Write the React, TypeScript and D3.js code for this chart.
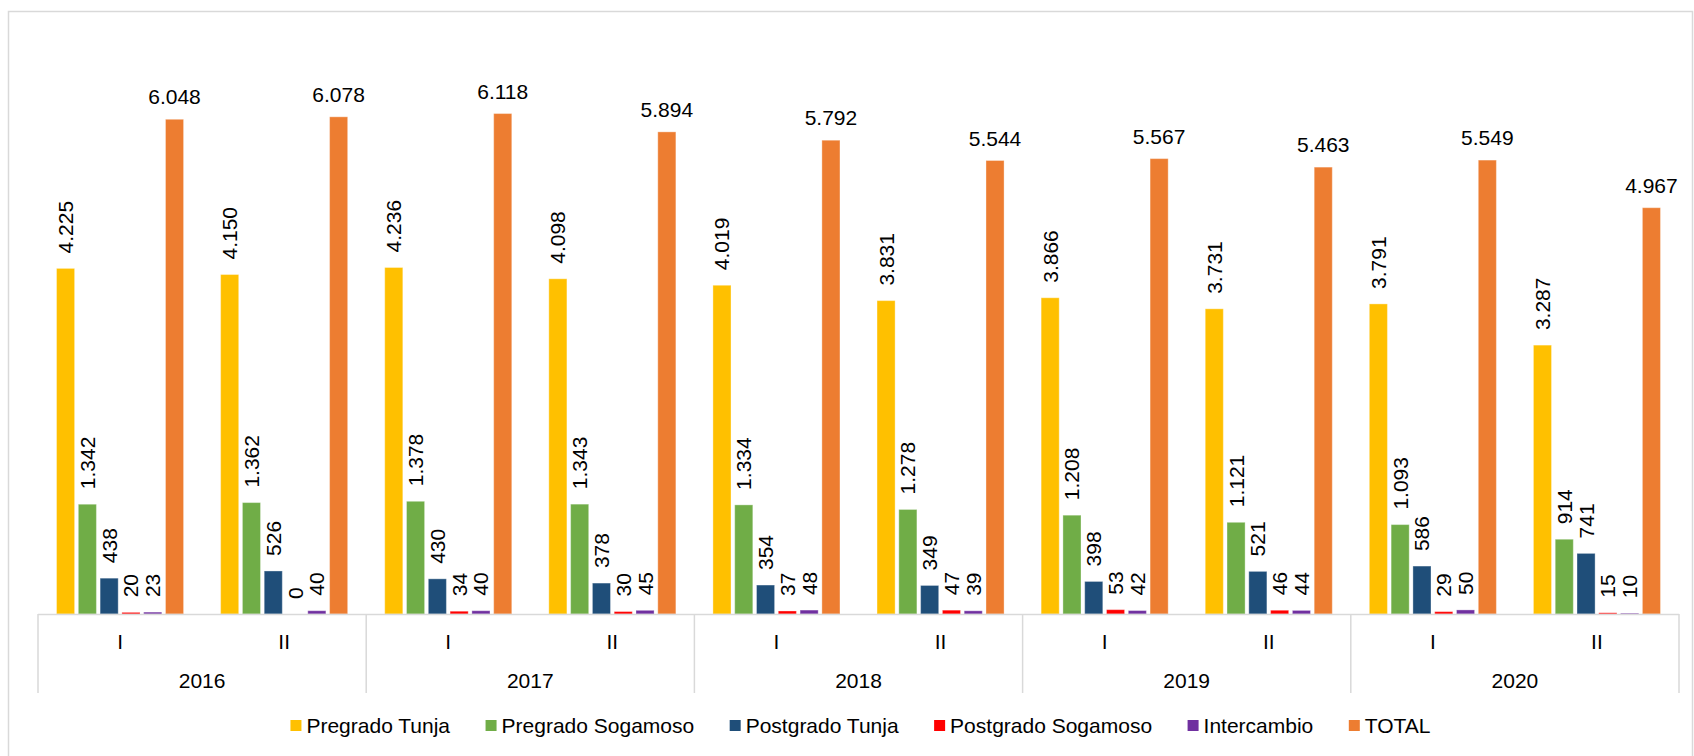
import React, { useEffect, useRef } from 'react'
import * as d3 from 'd3'

// chart data
const years = ['2016', '2017', '2018', '2019', '2020']
const semesters = ['I', 'II']
const seriesNames = ['Pregrado Tunja', 'Pregrado Sogamoso', 'Postgrado Tunja', 'Postgrado Sogamoso', 'Intercambio', 'TOTAL']
const pregradoTunja = [4225, 4150, 4236, 4098, 4019, 3831, 3866, 3731, 3791, 3287]
const pregradoSogamoso = [1342, 1362, 1378, 1343, 1334, 1278, 1208, 1121, 1093, 914]
const postgradoTunja = [438, 526, 430, 378, 354, 349, 398, 521, 586, 741]
const postgradoSogamoso = [20, 0, 34, 30, 37, 47, 53, 46, 29, 15]
const intercambio = [23, 40, 40, 45, 48, 39, 42, 44, 50, 10]
const total = [6048, 6078, 6118, 5894, 5792, 5544, 5567, 5463, 5549, 4967]
const colors = ['#FFC000', '#70AD47', '#1F4E79', '#FF0000', '#7030A0', '#ED7D31']

const FONT = '"Liberation Sans", Arial, sans-serif'

const App = () => {
    const svgRef = useRef<SVGSVGElement>(null)

    useEffect(() => {
        const svg = d3.select(svgRef.current)
        svg.selectAll('*').remove()

        const values = [pregradoTunja, pregradoSogamoso, postgradoTunja, postgradoSogamoso, intercambio, total]
        const fmt = d3.formatLocale({ decimal: ',', thousands: '.', grouping: [3], currency: ['$', ''] }).format(',d')

        // outer frame
        svg.append('rect')
            .attr('x', 8.5).attr('y', 11.5)
            .attr('width', 1684).attr('height', 800)
            .attr('fill', 'none').attr('stroke', '#D9D9D9').attr('stroke-width', 1.5)

        // scales
        const left = 38, right = 1679, base = 614
        const xYear = d3.scaleBand().domain(years).range([left, right]).padding(0)
        const xSem = d3.scaleBand().domain(semesters).range([0, xYear.bandwidth()]).padding(0)
        const xSer = d3.scaleBand().domain(seriesNames).range([0, xSem.bandwidth()])
            .paddingInner(0.17).paddingOuter(0.85)
        const y = d3.scaleLinear().domain([0, 7000]).range([base, base - 7000 * 0.0818])

        const rows = years.flatMap((yr, yi) => semesters.map((s, si) => ({ yr, s, idx: yi * 2 + si })))

        const groups = svg.append('g').selectAll('g')
            .data(rows)
            .join('g')
            .attr('transform', d => `translate(${xYear(d.yr)! + xSem(d.s)!},0)`)

        seriesNames.forEach((name, k) => {
            groups.append('rect')
                .attr('x', xSer(name)!)
                .attr('y', d => y(values[k][d.idx]))
                .attr('width', xSer.bandwidth())
                .attr('height', d => base - y(values[k][d.idx]))
                .attr('fill', colors[k])
                .attr('stroke', '#fff').attr('stroke-opacity', 0.35).attr('stroke-width', 1)

            const cx = xSer(name)! + xSer.bandwidth() / 2
            if (name === 'TOTAL') {
                groups.append('text')
                    .attr('x', cx)
                    .attr('y', d => y(values[k][d.idx]) - 15)
                    .attr('text-anchor', 'middle')
                    .attr('font-family', FONT).attr('font-size', 21).attr('fill', '#000')
                    .text(d => fmt(values[k][d.idx]))
            } else {
                groups.append('text')
                    .attr('transform', d => `translate(${cx},${y(values[k][d.idx]) - 15}) rotate(-90)`)
                    .attr('text-anchor', 'start')
                    .attr('dominant-baseline', 'central')
                    .attr('font-family', FONT).attr('font-size', 21).attr('fill', '#000')
                    .text(d => fmt(values[k][d.idx]))
            }
        })

        // category axis
        const axis = svg.append('g')
        axis.append('line')
            .attr('x1', left).attr('x2', right).attr('y1', base + 0.5).attr('y2', base + 0.5)
            .attr('stroke', '#D9D9D9').attr('stroke-width', 1.5)
        const edges = years.map(yr => xYear(yr)!).concat([right])
        axis.selectAll('.sep')
            .data(edges)
            .join('line')
            .attr('x1', d => d).attr('x2', d => d)
            .attr('y1', base).attr('y2', 693)
            .attr('stroke', '#D9D9D9').attr('stroke-width', 1.5)
        axis.selectAll('.sem')
            .data(rows)
            .join('text')
            .attr('x', d => xYear(d.yr)! + xSem(d.s)! + xSem.bandwidth() / 2)
            .attr('y', 641)
            .attr('text-anchor', 'middle').attr('dominant-baseline', 'central')
            .attr('font-family', FONT).attr('font-size', 21).attr('fill', '#000')
            .text(d => d.s)
        axis.selectAll('.yr')
            .data(years)
            .join('text')
            .attr('x', d => xYear(d)! + xYear.bandwidth() / 2)
            .attr('y', 680)
            .attr('text-anchor', 'middle').attr('dominant-baseline', 'central')
            .attr('font-family', FONT).attr('font-size', 21).attr('fill', '#000')
            .text(d => d)

        // legend
        const legend = svg.append('g')
        const items = legend.selectAll('g')
            .data(seriesNames)
            .join('g')
        items.append('rect')
            .attr('width', 11).attr('height', 11).attr('y', -5.5)
            .attr('fill', (d, i) => colors[i])
        const labels = items.append('text')
            .attr('x', 16)
            .attr('y', 7.5)
            .attr('font-family', FONT).attr('font-size', 21).attr('fill', '#000')
            .text(d => d)
        let pos = 0
        labels.each(function (d, i) {
            const tw = (this as SVGTextElement).getComputedTextLength()
            d3.select(items.nodes()[i]).attr('transform', `translate(${pos},0)`)
            pos += 16 + tw + 35.5
        })
        const legendW = pos - 35.5
        legend.attr('transform', `translate(${860.5 - legendW / 2},725.5)`)
    }, [])

    return (
        <svg ref={svgRef} width={1694} height={756}
            style={{ position: 'absolute', left: 0, top: 0, background: '#fff' }} />
    )
}

export default App
